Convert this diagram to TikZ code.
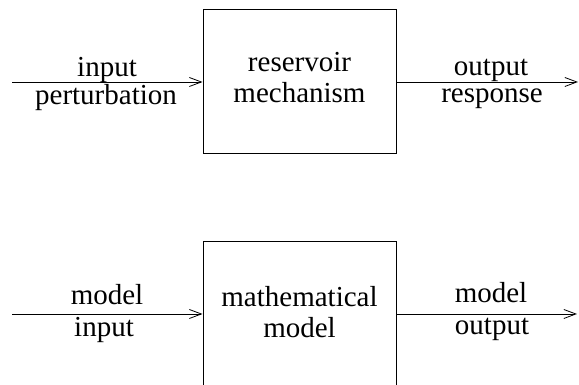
\documentclass[tikz,border=0pt]{standalone}
\usepackage{fontspec}
\setmainfont{Liberation Serif}
\usetikzlibrary{arrows.meta}

\tikzset{
  block/.style={draw, line width=1pt, minimum width=193pt, minimum height=144pt,
    inner sep=0pt},
  blocktext/.style={align=center, inner sep=0pt},
  flow/.style={-{Straight Barb[length=12pt,width=9pt]}, line width=0.8pt},
  tag/.style={anchor=base, inner sep=0pt}
}

\begin{document}
\begin{tikzpicture}[x=1pt, y=1pt, font=\fontsize{29}{31}\selectfont]
\useasboundingbox (0,0) rectangle (579,385);

% Blocks
\node[block] (res) at (299.5,303) {};
\node[block] (mod) at (299.5,71) {};
\node[blocktext] (resTxt) at ([yshift=4pt]res.center) {reservoir\\mechanism};
\node[blocktext] (modTxt) at ([yshift=2pt]mod.center) {mathematical\\model};

% Free ends of the connectors
\coordinate (resIn) at (12,303);
\coordinate (resOut) at (578,303);
\coordinate (modIn) at (12,71);
\coordinate (modOut) at (577,71);

% Connectors
\draw[flow] (resIn) -- (res.west);
\draw[flow] (res.east) -- (resOut);
\draw[flow] (modIn) -- (mod.west);
\draw[flow] (mod.east) -- (modOut);

% Labels on the top row
\node[tag] (inTop) at (107,308) {input};
\node[tag] (inBot) at (106,280) {perturbation};
\node[tag] (outTop) at (491,309) {output};
\node[tag] (outBot) at (492,282) {response};

% Labels on the bottom row
\node[tag] (minTop) at (107,80) {model};
\node[tag] (minBot) at (104,48) {input};
\node[tag] (moutTop) at (491,82) {model};
\node[tag] (moutBot) at (492,50) {output};

\end{tikzpicture}
\end{document}
